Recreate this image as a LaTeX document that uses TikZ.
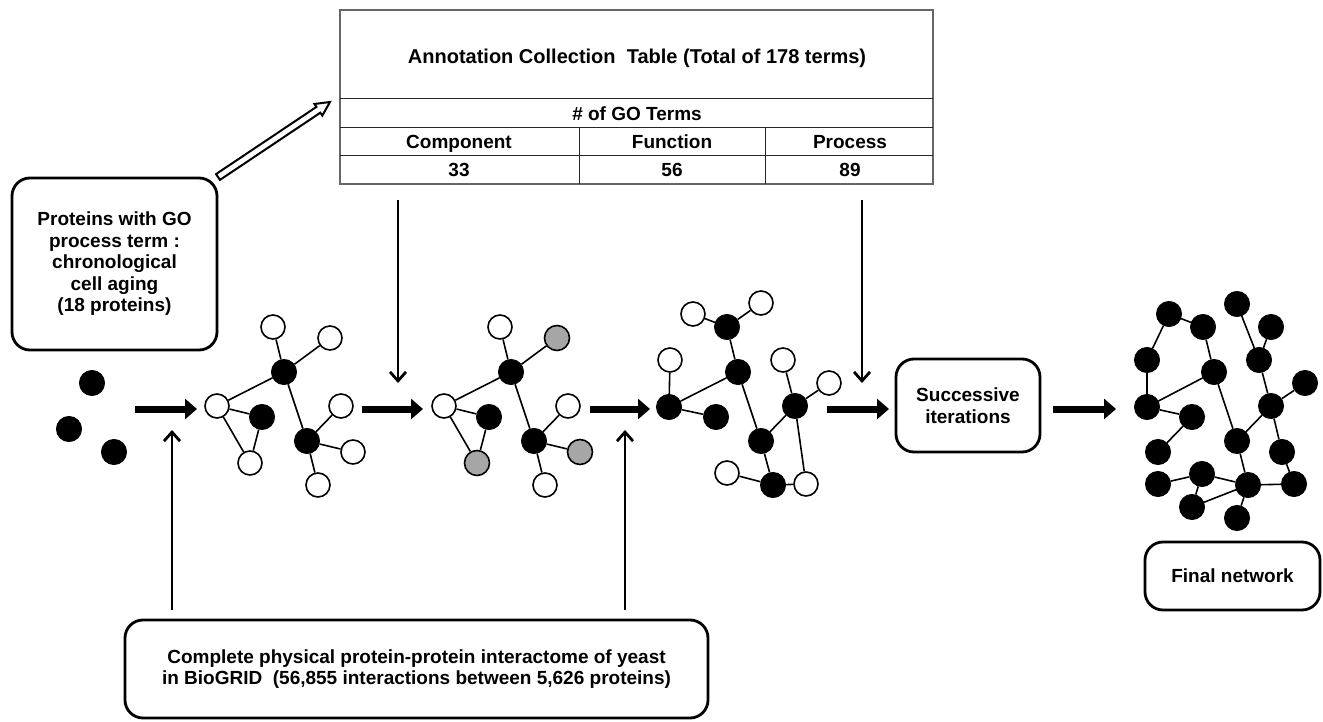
\documentclass[tikz,border=0pt]{standalone}
\usepackage{fontspec}
\setmainfont{Liberation Sans}
\usetikzlibrary{arrows.meta}
\begin{document}
\begin{tikzpicture}[x=1pt,y=-1pt,
  wn/.style={circle,draw=black,line width=1.6,fill=white,minimum size=24,inner sep=0},
  bn/.style={circle,draw=black,fill=black,line width=1,minimum size=25,inner sep=0},
  gn/.style={circle,draw=black,line width=1.6,fill=black!35,minimum size=25,inner sep=0},
  edge/.style={line width=1.6},
  rbox/.style={draw,line width=2.8,rounded corners=18,inner sep=0},
  txt/.style={font=\fontsize{19}{21.5}\selectfont\bfseries,align=center},
  ttxt/.style={font=\fontsize{19}{21}\selectfont\bfseries,text height=13.5,text depth=4,inner sep=0},
  bigarrow/.style={line width=7,-{Triangle[length=12,width=20]}},
  thinarrow/.style={line width=2.8,-{Straight Barb[length=9,width=16,line width=2.8]}},
  tline/.style={line width=1,black!85},
]
\useasboundingbox (0,0) rectangle (1323,722);
\fill[white] (0,0) rectangle (1323,722);

% ---------- table ----------
\coordinate (tl) at (340,10);
\coordinate (br) at (933,184);
\draw[line width=1.2,black!60] (tl) rectangle (br);
\draw[tline] (340,99) -- (933,99);
\draw[tline] (340,128) -- (933,128);
\draw[tline] (340,156) -- (933,156);
\draw[tline] (579,128) -- (579,184);
\draw[tline] (765,128) -- (765,184);
\node[ttxt,font=\fontsize{20}{22}\selectfont\bfseries] (ttitle) at (637,59) {Annotation Collection\ \ Table (Total of 178 terms)};
\node[ttxt] (tgo) at (637,116) {\# of GO Terms};
\node[ttxt] (tc) at (459,144) {Component};
\node[ttxt] (tf) at (672,144) {Function};
\node[ttxt] (tp) at (850,144) {Process};
\node[ttxt] (vc) at (459,172) {33};
\node[ttxt] (vf) at (672,172) {56};
\node[ttxt] (vp) at (850,172) {89};

% ---------- boxes ----------
\node[rbox,txt,minimum width=205,minimum height=172] (prot) at (114.5,264)
  {Proteins with GO\\process term :\\chronological\\cell aging\\(18 proteins)};
\node[rbox,txt,minimum width=583,minimum height=98] (bio) at (416.5,669)
  {Complete physical protein-protein interactome of yeast\\in BioGRID\ \ (56,855 interactions between 5,626 proteins)};
\node[rbox,txt,minimum width=144,minimum height=93] (succ) at (968,405.5)
  {Successive\\iterations};
\node[rbox,txt,minimum width=175,minimum height=68] (fin) at (1232.5,576)
  {Final network};

% ---------- double arrow ----------
\coordinate (dT) at (218,177);
\coordinate (dH) at (330,102);
\draw[line width=2,fill=white,line join=miter]
  (219.95,179.91) -- (320.35,112.71) -- (322.29,115.62) -- (dH)
  -- (314.51,103.98) -- (316.45,106.89) -- (216.05,174.09) -- cycle;

% ---------- initial proteins ----------
\node[bn] (s1) at (92,383) {};
\node[bn] (s2) at (69,429) {};
\node[bn] (s3) at (114,452) {};

% ---------- graph 1 ----------
\node[wn] (a1) at (273,327) {};
\node[wn] (a2) at (330,338) {};
\node[bn] (a3) at (284,372) {};
\node[wn] (a4) at (217,406) {};
\node[bn] (a5) at (262,417) {};
\node[wn] (a6) at (250,463) {};
\node[bn] (a7) at (307,441) {};
\node[wn] (a8) at (341,406) {};
\node[wn] (a9) at (353,452) {};
\node[wn] (a10) at (318,485) {};
\draw[edge] (a1)--(a3) (a2)--(a3) (a3)--(a4) (a4)--(a5) (a4)--(a6) (a5)--(a6)
  (a3)--(a7) (a7)--(a8) (a7)--(a9) (a7)--(a10);

% ---------- graph 2 ----------
\node[wn] (b1) at (500,327) {};
\node[gn] (b2) at (557,338) {};
\node[bn] (b3) at (511,372) {};
\node[wn] (b4) at (444,406) {};
\node[bn] (b5) at (489,417) {};
\node[gn] (b6) at (477,463) {};
\node[bn] (b7) at (534,441) {};
\node[wn] (b8) at (568,406) {};
\node[gn] (b9) at (580,452) {};
\node[wn] (b10) at (545,485) {};
\draw[edge] (b1)--(b3) (b2)--(b3) (b3)--(b4) (b4)--(b5) (b4)--(b6) (b5)--(b6)
  (b3)--(b7) (b7)--(b8) (b7)--(b9) (b7)--(b10);

% ---------- graph 3 ----------
\node[wn] (c1) at (693,314) {};
\node[wn] (c2) at (761,303) {};
\node[bn] (c3) at (727,327) {};
\node[wn] (c4) at (670,360) {};
\node[bn] (c5) at (738,372) {};
\node[bn] (c6) at (669,407) {};
\node[bn] (c7) at (716,417) {};
\node[wn] (c8) at (783,360) {};
\node[wn] (c9) at (829,383) {};
\node[bn] (c10) at (795,406) {};
\node[bn] (c11) at (761,441) {};
\node[wn] (c12) at (727,473) {};
\node[bn] (c13) at (773,485) {};
\node[wn] (c14) at (806,484) {};
\draw[edge] (c1)--(c3) (c3)--(c2) (c3)--(c5) (c4)--(c6) (c6)--(c5) (c6)--(c7)
  (c5)--(c11) (c11)--(c10) (c10)--(c9) (c8)--(c10) (c10)--(c14)
  (c11)--(c13) (c12)--(c13) (c13)--(c14);

% ---------- final network ----------
\node[bn] (n1) at (1169,314) {};
\node[bn] (n2) at (1203,327) {};
\node[bn] (n3) at (1237,304) {};
\node[bn] (n4) at (1271,327) {};
\node[bn] (n5) at (1147,360) {};
\node[bn] (n6) at (1214,372) {};
\node[bn] (n7) at (1259,360) {};
\node[bn] (n8) at (1305,383) {};
\node[bn] (n9) at (1147,407) {};
\node[bn] (n10) at (1192,417) {};
\node[bn] (n11) at (1271,406) {};
\node[bn] (n12) at (1237,441) {};
\node[bn] (n13) at (1158,452) {};
\node[bn] (n14) at (1282,452) {};
\node[bn] (n15) at (1158,484) {};
\node[bn] (n16) at (1202,474) {};
\node[bn] (n17) at (1248,485) {};
\node[bn] (n18) at (1294,484) {};
\node[bn] (n19) at (1192,507) {};
\node[bn] (n20) at (1237,518) {};
\draw[edge] (n1)--(n2) (n1)--(n5) (n2)--(n6) (n5)--(n9) (n9)--(n6) (n9)--(n10)
  (n10)--(n13) (n6)--(n12) (n3)--(n7) (n4)--(n7) (n7)--(n11) (n11)--(n8)
  (n11)--(n12) (n11)--(n14) (n14)--(n18) (n12)--(n17) (n15)--(n16)
  (n16)--(n17) (n16)--(n19) (n19)--(n17) (n17)--(n18) (n17)--(n20);

% ---------- main arrows ----------
\coordinate (m1s) at (135,409); \coordinate (m1e) at (197,409);
\coordinate (m2s) at (362,409); \coordinate (m2e) at (423,409);
\coordinate (m3s) at (590,409); \coordinate (m3e) at (650,409);
\coordinate (m4s) at (827,409); \coordinate (m4e) at (889,409);
\coordinate (m5s) at (1053,409); \coordinate (m5e) at (1116,409);
\draw[bigarrow] (m1s) -- (m1e);
\draw[bigarrow] (m2s) -- (m2e);
\draw[bigarrow] (m3s) -- (m3e);
\draw[bigarrow] (m4s) -- (m4e);
\draw[bigarrow] (m5s) -- (m5e);

% ---------- thin arrows ----------
\coordinate (v1s) at (398,200); \coordinate (v1e) at (398,383);
\coordinate (v2s) at (862,200); \coordinate (v2e) at (862,383);
\coordinate (v3s) at (172,610); \coordinate (v3e) at (172,430);
\coordinate (v4s) at (625,610); \coordinate (v4e) at (625,430);
\draw[thinarrow] (v1s) -- (v1e);
\draw[thinarrow] (v2s) -- (v2e);
\draw[thinarrow] (v3s) -- (v3e);
\draw[thinarrow] (v4s) -- (v4e);
\end{tikzpicture}
\end{document}
